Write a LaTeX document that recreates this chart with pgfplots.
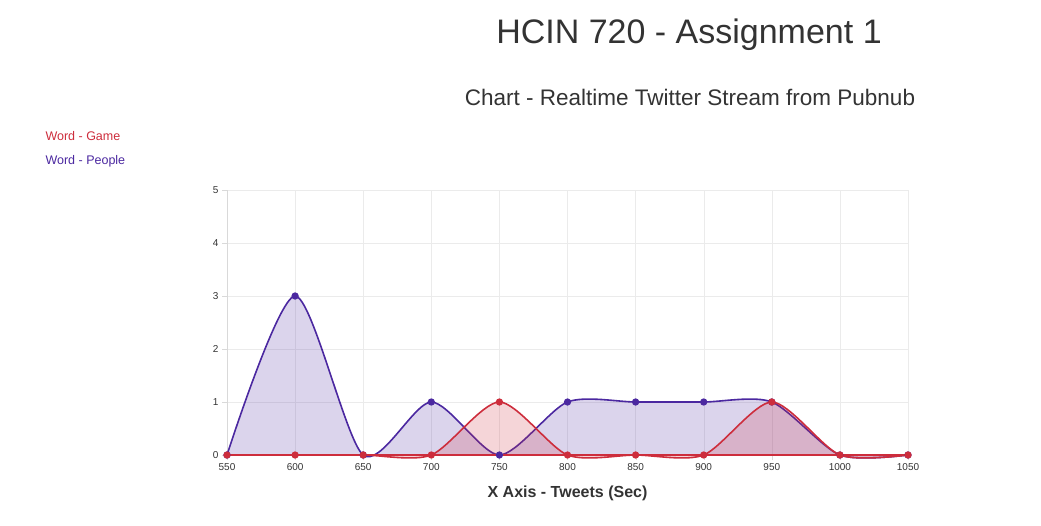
\documentclass[border=0pt]{standalone}
\usepackage{pgfplots}
\pgfplotsset{compat=1.18}
\usepackage{fontspec}
\setmainfont{Liberation Sans}
\definecolor{cred}{RGB}{205,45,60}
\definecolor{cpur}{RGB}{75,40,160}
\definecolor{ctxt}{RGB}{51,51,51}
\begin{document}
\begin{tikzpicture}
\path (0pt,0pt) rectangle (1041pt,-526pt);
\node[text=ctxt,font=\fontsize{34}{40}\selectfont] at (689pt,-35pt) {HCIN 720 - Assignment 1};
\node[text=ctxt,font=\fontsize{22.5}{26}\selectfont] at (690pt,-97pt) {Chart - Realtime Twitter Stream from Pubnub};
\node[text=cred,font=\fontsize{12.5}{15}\selectfont,anchor=west] at (42pt,-136pt) {Word - Game};
\node[text=cpur,font=\fontsize{12.5}{15}\selectfont,anchor=west] at (42pt,-161pt) {Word - People};
\begin{axis}[at={(227pt,-455pt)},anchor=south west,scale only axis,width=681pt,height=265pt,
 xmin=550,xmax=1050,ymin=0,ymax=5,xtick={550,600,...,1050},ytick={0,...,5},
 axis lines=left, axis line style={draw=black!15,-},
 grid=major, grid style={draw=black!8},
 tick style={draw=black!15}, tick align=outside, major tick length=5pt,
 ticklabel style={font=\fontsize{10}{12}\selectfont,text=ctxt},
 /pgf/number format/assume math mode=true,
 /pgf/number format/1000 sep={},
 xlabel={\textbf{X Axis - Tweets (Sec)}},
 xlabel style={font=\fontsize{16}{19}\selectfont,text=ctxt,yshift=-8pt},
 clip=false]
\addplot[cpur,line width=1.6pt,smooth,tension=0.45,fill=cpur,fill opacity=0.2,draw opacity=1,mark=*,mark size=2.8pt,mark options={fill=cpur,fill opacity=1}] coordinates {(550,0)(600,3)(650,0)(700,1)(750,0)(800,1)(850,1)(900,1)(950,1)(1000,0)(1050,0)} \closedcycle;
\addplot[cred,line width=1.6pt,smooth,tension=0.45,fill=cred,fill opacity=0.2,draw opacity=1,mark=*,mark size=2.8pt,mark options={fill=cred,fill opacity=1}] coordinates {(550,0)(600,0)(650,0)(700,0)(750,1)(800,0)(850,0)(900,0)(950,1)(1000,0)(1050,0)} \closedcycle;
\end{axis}
\end{tikzpicture}
\end{document}
